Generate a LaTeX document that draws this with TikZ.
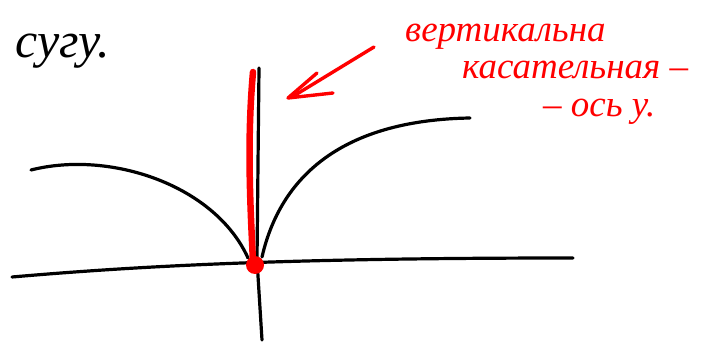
\documentclass[tikz,border=0pt]{standalone}
\usepackage{fontspec}
\setmainfont{Liberation Serif}
\begin{document}
\begin{tikzpicture}[x=1pt,y=-1pt,
  blk/.style={line width=3.2pt, line cap=round, line join=round},
  redln/.style={red, line width=3.4pt, line cap=round, line join=round},
  redtxt/.style={red, anchor=base west, inner sep=0pt, font=\fontsize{37}{37}\selectfont\itshape}]
\useasboundingbox (0,0) rectangle (708,344);
% axes
\draw[blk] (12,277) .. controls (150,265) and (300,258) .. (573,258);
\draw[blk] (259,68) -- (257,260) .. controls (259,300) .. (262,340);
% cusp branches
\draw[blk] (31,170) .. controls (110,150) and (215,185) .. (248,258);
\draw[blk] (262,257) .. controls (282,170) and (350,120) .. (470,118);
% red tangent
\draw[red, line width=6.5pt, line cap=round] (253,72) .. controls (247,140) and (250,200) .. (253,262);
\fill[red] (255,265) circle (9);
% arrow
\draw[redln] (374,47) -- (292,97);
\draw[redln] (317,73) -- (288,98) -- (333,93);
% texts
\node[anchor=base west, inner sep=0pt, font=\fontsize{50}{50}\selectfont\itshape] (cusp) at (15,58) {сугу.};
\node[redtxt] (t1) at (405,42) {вертикальна};
\node[redtxt] (t2) at (462,79) {касательная –};
\node[redtxt] (t3) at (543,117) {– ось у.};
\end{tikzpicture}
\end{document}
